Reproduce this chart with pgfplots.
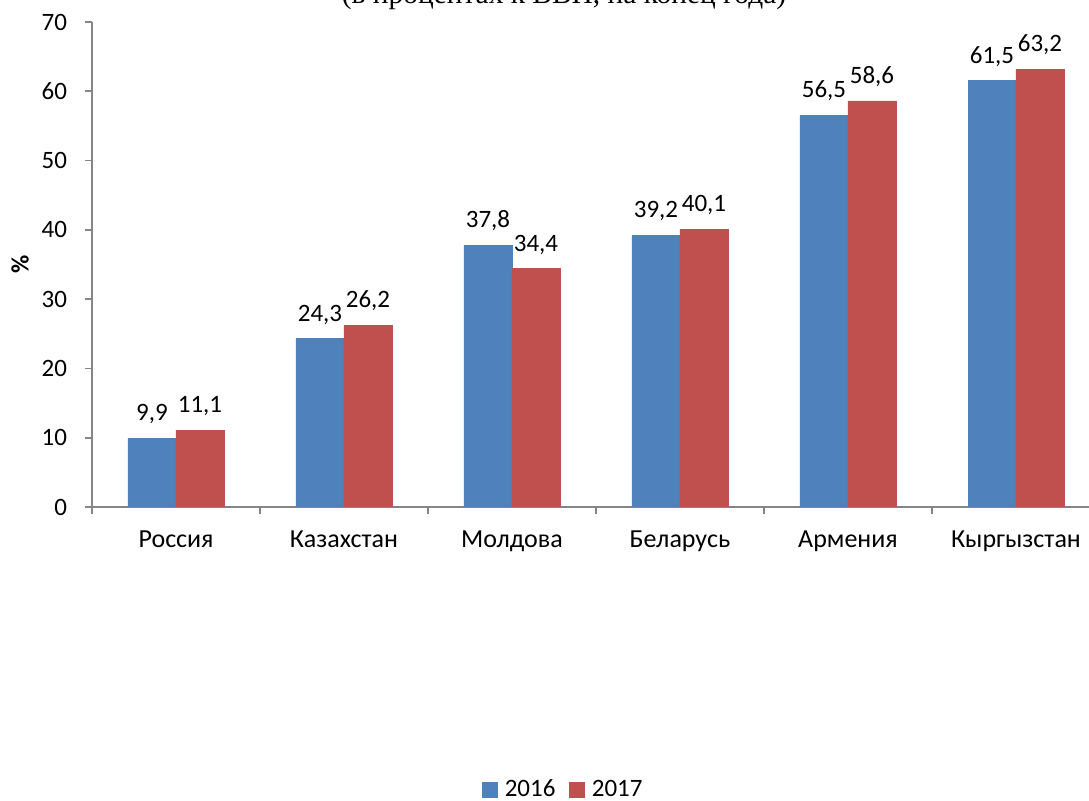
\documentclass[border=0pt]{standalone}
\usepackage{pgfplots}
\pgfplotsset{compat=1.18}
\usepackage{fontspec}
\setmainfont{Carlito}
\newfontfamily\titlefont{Liberation Serif}
\definecolor{blue16}{HTML}{4F81BD}
\definecolor{red17}{HTML}{C0504D}
\definecolor{axgray}{HTML}{868686}

\begin{document}
\begin{tikzpicture}
\begin{axis}[
  at={(0,0)}, anchor=south west,
  scale only axis, width=504pt, height=242.5pt,
  ybar, bar width=0.2857,
  xmin=-0.5, xmax=5.5, ymin=0, ymax=70,
  axis lines=left,
  axis line style={draw=axgray, line width=0.8pt, -},
  xtick={0,...,5},
  xticklabels={Россия, Казахстан, Молдова, Беларусь, Армения, Кыргызстан},
  minor xtick={-0.5,0.5,...,5.5},
  ytick={0,10,...,70},
  tick align=outside,
  major tick length=3.5pt, minor tick length=3.5pt,
  every tick/.style={draw=axgray, line width=0.8pt},
  major x tick style={draw=none},
  tick label style={font=\fontsize{12.5}{15}\selectfont, black},
  xticklabel style={anchor=base, yshift=-17pt, font=\fontsize{13}{15}\selectfont},
  yticklabel style={xshift=-5.5pt},
  /pgf/number format/assume math mode=true,
  ylabel={\textbf{\%}},
  ylabel style={at={(axis description cs:-0.0714,0.5)}, anchor=center, font=\fontsize{12.5}{15}\selectfont},
  nodes near coords={\pgfmathprintnumber[use comma,fixed,fixed zerofill,precision=1]{\pgfplotspointmeta}},
  nodes near coords style={anchor=base, yshift=8.8pt, font=\fontsize{12.5}{15}\selectfont, black},
  legend columns=2,
  legend style={at={(0.4687,-0.5835)}, anchor=center, draw=none, fill=none, font=\fontsize{12.5}{15}\selectfont,
    /tikz/every odd column/.append style={column sep=1.5pt},
    /tikz/every even column/.append style={column sep=5pt}},
]
\addplot[fill=blue16, draw=blue16, bar shift=-0.142857,
  legend image code/.code={\fill[blue16] (0pt,-3.65pt) rectangle (7.3pt,3.65pt);}]
  coordinates {(0,9.9) (1,24.3) (2,37.8) (3,39.2) (4,56.5) (5,61.5)};
\addplot[fill=red17, draw=red17, bar shift=0.142857,
  legend image code/.code={\fill[red17] (0pt,-3.65pt) rectangle (7.3pt,3.65pt);}]
  coordinates {(0,11.1) (1,26.2) (2,34.4) (3,40.1) (4,58.6) (5,63.2)};
\legend{2016,2017}
\end{axis}
\node[font=\titlefont\fontsize{14.7}{18}\selectfont, anchor=base] at (236pt,251.5pt) {(в процентах к ВВП, на конец года)};
\pgfresetboundingbox
\useasboundingbox (-46pt,-147pt) rectangle (498.5pt,253.5pt);
\end{tikzpicture}
\end{document}
